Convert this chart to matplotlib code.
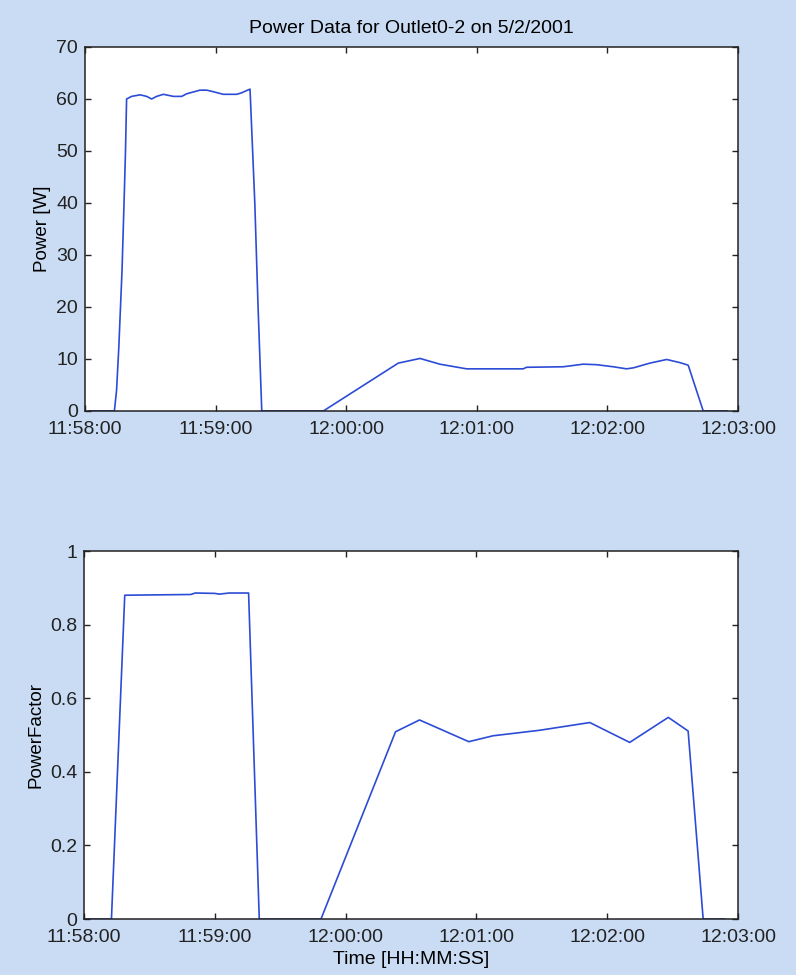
import numpy as np
import pandas as pd
import matplotlib
matplotlib.use("Agg")
import matplotlib.pyplot as plt
import matplotlib.dates as mdates

plt.rcParams["font.family"] = ["Liberation Sans", "DejaVu Sans"]

# seconds after 11:58:00 on 5/2/2001
start = pd.Timestamp("2001-05-02 11:58:00")
end = pd.Timestamp("2001-05-02 12:03:00")

power_t = [2, 13.5, 14.5, 15.5, 17, 18, 18.6, 19.1, 21.4, 25.3, 28.3, 30.6, 32.9,
           36.0, 40.6, 44.4, 46.7, 52.8, 55.9, 58.9, 63.5, 69.7, 72.0, 75.8,
           76.5, 78, 79.5, 81.2, 109.5, 143.9, 153.9, 163, 175.3, 201.3, 202.8,
           219.7, 228.9, 235, 242.7, 248.8, 252, 259.5, 267.2, 273.3, 277.1,
           284, 295]
power_w = [0, 0, 4, 12, 27, 41, 50, 60, 60.5, 60.8, 60.5, 60.0, 60.5,
           60.9, 60.5, 60.5, 61.0, 61.7, 61.7, 61.4, 60.9, 60.9, 61.2, 61.9,
           55, 40, 20, 0, 0, 9.2, 10.1, 9.0, 8.1, 8.1, 8.4,
           8.5, 9.0, 8.9, 8.5, 8.1, 8.3, 9.2, 9.9, 9.3, 8.8,
           0, 0]

pf_t = [1, 12.6, 18.7, 49, 51, 60, 62, 66.6, 75.5, 80.4, 108.7, 142.9, 153.9,
        176.5, 187.6, 209, 232.0, 250.3, 268.0, 277.1, 284.0, 294]
pf_v = [0, 0, 0.880, 0.882, 0.886, 0.885, 0.883, 0.886, 0.886, 0, 0, 0.509, 0.541,
        0.482, 0.498, 0.513, 0.534, 0.480, 0.548, 0.511, 0, 0]

xticks = ["11:58:00", "11:59:00", "12:00:00", "12:01:00", "12:02:00", "12:03:00"]

bg = "#c9dcf4"
line_color = "#2c4cd6"

fig = plt.figure(figsize=(7.96, 9.75), dpi=100, facecolor=bg)
ax1 = fig.add_axes([0.1068, 0.5785, 0.8204, 0.3733])
ax2 = fig.add_axes([0.1055, 0.0574, 0.8217, 0.3774])


def to_time(secs):
    return start + pd.to_timedelta(secs, unit="s")


tick_pos = [pd.Timestamp("2001-05-02 " + s) for s in xticks]

for ax in (ax1, ax2):
    ax.set_facecolor("white")
    ax.set_xlim(start, end)
    ax.set_xticks(tick_pos)
    ax.xaxis.set_major_formatter(mdates.DateFormatter("%H:%M:%S"))
    ax.tick_params(direction="in", length=4.5, width=1, top=True, right=True,
                   labelsize=14, pad=5, colors="#222222")
    ax.tick_params(axis="x", pad=7.5)
    for sp in ax.spines.values():
        sp.set_color("#222222")
        sp.set_linewidth(1.1)

ax1.plot(to_time(power_t), power_w, color=line_color, lw=1.2)
ax1.set_ylim(0, 70)
ax1.set_yticks(np.arange(0, 71, 10))
ax1.set_ylabel("Power [W]", fontsize=13.5, labelpad=4)
ax1.set_title("Power Data for Outlet0-2 on 5/2/2001", fontsize=14, pad=10)

ax2.plot(to_time(pf_t), pf_v, color=line_color, lw=1.2)
ax2.set_ylim(0, 1)
ax2.set_yticks([0, 0.2, 0.4, 0.6, 0.8, 1])
ax2.set_yticklabels(["0", "0.2", "0.4", "0.6", "0.8", "1"])
ax2.set_ylabel("PowerFactor", fontsize=13.5, labelpad=4)
ax2.set_xlabel("Time [HH:MM:SS]", fontsize=14, labelpad=3)

fig.savefig("out.png", dpi=100, facecolor=bg)
